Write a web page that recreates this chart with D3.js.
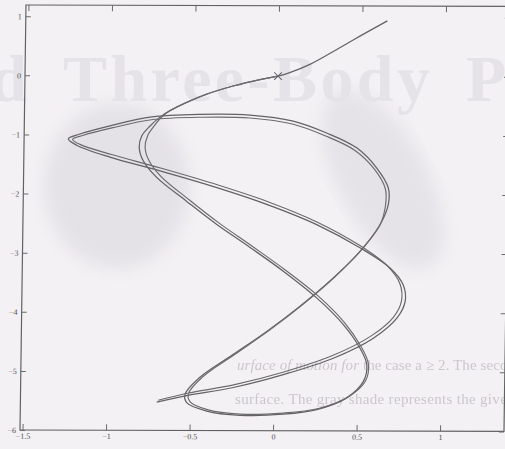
<!DOCTYPE html>
<html>
<head>
<meta charset="utf-8">
<script src="https://cdn.jsdelivr.net/npm/d3@7"></script>
<style>
  html, body { margin: 0; padding: 0; background: #f4f1f4; }
  svg { display: block; }
  .tick text { font-family: "Liberation Serif", "DejaVu Serif", serif; font-size: 8px; fill: #505050; }
  .tick line { stroke: #6a6a6a; }
  .domain { display: none; }
</style>
</head>
<body>
<svg id="chart" width="505" height="449"></svg>
<script>
// axis ticks
const xTicks = [-1.5, -1, -0.5, 0, 0.5, 1]
const yTicks = [1, 0, -1, -2, -3, -4, -5, -6]

const orbitOne = [
  [0.650, 0.94], [0.487, 0.68], [0.329, 0.42], [0.190, 0.20], [0.070, 0.06], [0.000, 0.00],
  [-0.108, -0.06], [-0.268, -0.17], [-0.426, -0.31], [-0.545, -0.45], [-0.644, -0.59], [-0.703, -0.70],
  [-0.762, -0.85], [-0.811, -1.02], [-0.825, -1.21], [-0.800, -1.44], [-0.718, -1.72],
  [-0.538, -2.12], [-0.356, -2.51], [-0.153, -2.90], [0.048, -3.30], [0.250, -3.75], [0.412, -4.20], [0.514, -4.60],
  [0.556, -4.88], [0.537, -5.16], [0.438, -5.44], [0.260, -5.64], [0.060, -5.72], [-0.199, -5.74], [-0.399, -5.67], [-0.519, -5.53], [-0.530, -5.39],
  [-0.442, -5.10], [-0.244, -4.71], [-0.046, -4.32], [0.151, -3.89], [0.348, -3.41], [0.506, -2.96], [0.623, -2.51],
  [0.671, -2.17], [0.670, -1.89], [0.599, -1.55], [0.477, -1.21], [0.296, -0.96],
  [0.095, -0.76], [-0.165, -0.66], [-0.464, -0.65], [-0.763, -0.70], [-1.002, -0.85],
  [-1.181, -0.99], [-1.250, -1.07], [-1.200, -1.18],
  [-1.000, -1.38], [-0.699, -1.61], [-0.357, -1.89], [-0.057, -2.17], [0.244, -2.51], [0.505, -2.90],
  [0.687, -3.24], [0.768, -3.53], [0.780, -3.81], [0.732, -4.09],
  [0.593, -4.43], [0.355, -4.77], [0.057, -5.05], [-0.241, -5.27], [-0.520, -5.41], [-0.699, -5.52]
]

// second trajectory, runs beside the first one from the cross at the origin
const orbitTwo = [
  [0.000, 0.00], [-0.108, -0.06], [-0.268, -0.17], [-0.426, -0.31], [-0.545, -0.45], [-0.640, -0.585], [-0.690, -0.69],
  [-0.735, -0.84], [-0.775, -1.01], [-0.790, -1.21], [-0.765, -1.44], [-0.690, -1.71],
  [-0.520, -2.10], [-0.340, -2.49], [-0.140, -2.88], [0.060, -3.28], [0.260, -3.72], [0.420, -4.17], [0.520, -4.57],
  [0.565, -4.86], [0.550, -5.15], [0.450, -5.42], [0.270, -5.62], [0.060, -5.70], [-0.200, -5.72], [-0.390, -5.65], [-0.500, -5.51], [-0.510, -5.38],
  [-0.425, -5.09], [-0.230, -4.70], [-0.035, -4.31], [0.160, -3.88], [0.355, -3.40], [0.510, -2.95], [0.625, -2.50],
  [0.655, -2.17], [0.652, -1.90], [0.585, -1.57], [0.465, -1.25], [0.290, -1.01],
  [0.090, -0.81], [-0.165, -0.71], [-0.460, -0.70], [-0.755, -0.745], [-0.990, -0.885],
  [-1.160, -1.01], [-1.225, -1.08], [-1.180, -1.165],
  [-0.990, -1.335], [-0.690, -1.565], [-0.350, -1.845], [-0.050, -2.125], [0.245, -2.465], [0.500, -2.855],
  [0.672, -3.21], [0.748, -3.51], [0.758, -3.80], [0.712, -4.07],
  [0.580, -4.39], [0.350, -4.725], [0.060, -5.005], [-0.240, -5.225], [-0.515, -5.37], [-0.690, -5.49]
]

const startPoint = [0, 0]

const frame = { left: 20, right: 504, top: 5, bottom: 430 }

const svg = d3.select("#chart")

// faint page show-through from the scan
let defs = svg.append("defs")
defs.append("filter").attr("id", "soft")
  .append("feGaussianBlur").attr("stdDeviation", 9)
defs.append("filter").attr("id", "fuzz")
  .append("feGaussianBlur").attr("stdDeviation", 0.7)

const ghost = svg.append("g").attr("class", "ghost")
ghost.append("ellipse")
  .attr("cx", 117).attr("cy", 186).attr("rx", 72).attr("ry", 82)
  .attr("fill", "#e4e1e7").attr("filter", "url(#soft)")
ghost.append("ellipse")
  .attr("cx", 383).attr("cy", 180).attr("rx", 44).attr("ry", 98)
  .attr("transform", "rotate(-28 383 180)")
  .attr("fill", "#e5e2e8").attr("filter", "url(#soft)")

const ghostFont = '"Liberation Serif", "DejaVu Serif", serif'
let title = ghost.append("g")
  .attr("font-family", ghostFont).attr("font-size", 66).attr("font-weight", "bold")
  .attr("fill", "#e5e2e8").attr("filter", "url(#fuzz)")
title.append("text").attr("x", 27).attr("y", 101).attr("text-anchor", "end").text("ed")
title.append("text").attr("x", 63).attr("y", 101)
  .attr("textLength", 367).attr("lengthAdjust", "spacing").text("Three-Body")
title.append("text").attr("x", 466).attr("y", 101).text("P")

let caption = ghost.append("g")
  .attr("font-family", ghostFont).attr("font-size", 15)
  .attr("fill", "#cbc7cd").attr("filter", "url(#fuzz)")
let line1 = caption.append("text").attr("x", 237).attr("y", 370)
  .attr("textLength", 278).attr("lengthAdjust", "spacing")
line1.append("tspan").attr("font-style", "italic").text("urface of motion for")
line1.append("tspan").text(" the case a \u2265 2.  The secon")
caption.append("text").attr("x", 235).attr("y", 404)
  .attr("textLength", 278).attr("lengthAdjust", "spacing")
  .text("surface.  The gray shade represents the gives")

// the scan is slightly skewed: top edge sits ~6px right of the bottom edge
const plot = svg.append("g")
  .attr("transform", "matrix(1,0.003,-0.0141,1,6.06,-0.06)")

const x = d3.scaleLinear().domain([-1.515, 1.383]).range([frame.left, frame.right])
const y = d3.scaleLinear().domain([-6, 1.19]).range([frame.bottom, frame.top])

// frame
plot.append("rect")
  .attr("x", frame.left).attr("y", frame.top)
  .attr("width", frame.right - frame.left).attr("height", frame.bottom - frame.top)
  .attr("fill", "none").attr("stroke", "#626262").attr("stroke-width", 1.2)

// axes, ticks pointing inward
plot.append("g")
  .attr("transform", `translate(0,${frame.bottom})`)
  .call(d3.axisBottom(x).tickValues(xTicks).tickSize(-6).tickPadding(3)
    .tickFormat(d => d3.format("")(d)))
plot.append("g")
  .attr("transform", `translate(${frame.left},0)`)
  .call(d3.axisLeft(y).tickValues(yTicks).tickSize(-5).tickPadding(4)
    .tickFormat(d => d3.format("")(d)))
plot.append("g")
  .attr("transform", `translate(0,${frame.top})`)
  .call(d3.axisTop(x).tickValues(xTicks).tickSize(-6).tickFormat(""))
plot.append("g")
  .attr("transform", `translate(${frame.right},0)`)
  .call(d3.axisRight(y).tickValues(yTicks).tickSize(-5).tickFormat(""))

// trajectories
let path = d3.line()
  .x(d => x(d[0]))
  .y(d => y(d[1]))
  .curve(d3.curveCatmullRom.alpha(0.5))

plot.append("path")
  .datum(orbitOne)
  .attr("d", path)
  .attr("fill", "none")
  .attr("stroke", "#646265")
  .attr("stroke-width", 1.25)

plot.append("path")
  .datum(orbitTwo)
  .attr("d", path)
  .attr("fill", "none")
  .attr("stroke", "#6c6a6d")
  .attr("stroke-width", 1.15)

// start marker
let cross = d3.symbol().type(d3.symbolX).size(40)
plot.append("path")
  .attr("d", cross)
  .attr("transform", `translate(${x(startPoint[0])},${y(startPoint[1])})`)
  .attr("fill", "none")
  .attr("stroke", "#646265")
  .attr("stroke-width", 1)
</script>
</body>
</html>
